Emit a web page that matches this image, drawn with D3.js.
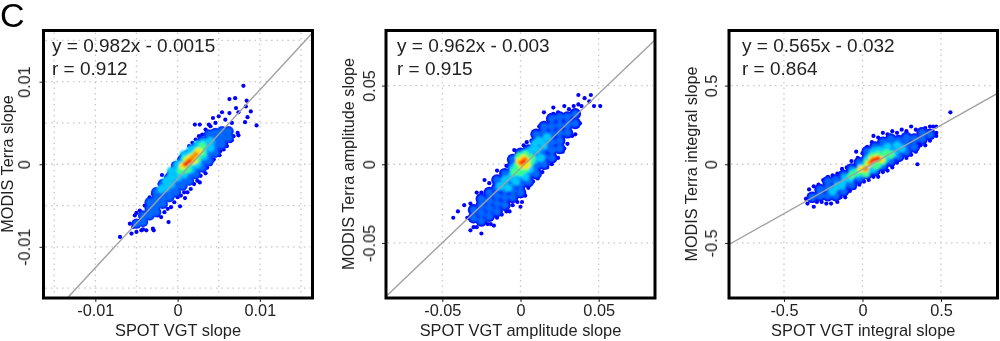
<!DOCTYPE html>
<html lang="en">
<head>
<meta charset="UTF-8">
<title>SPOT VGT vs MODIS Terra slopes</title>
<script src="https://d3js.org/d3.v7.min.js"></script>
<style>
html, body { margin: 0; padding: 0; background: #fff; }
svg { display: block; font-family: "Liberation Sans", Arial, sans-serif; }
text { fill: #222; filter: url(#softText); }
.grid { stroke: #c8c8c8; stroke-width: 1.3; stroke-dasharray: 1.5 4; }
.fit { stroke: #a0a0a0; stroke-width: 1.4; fill: none; }
.box { fill: none; stroke: #000; stroke-width: 3; }
.tick line, .domain { stroke: #222; }
</style>
</head>
<body>
<div id="chart"></div>
<script>
var xLabels = ['SPOT VGT slope', 'SPOT VGT amplitude slope', 'SPOT VGT integral slope'];
var yLabels = ['MODIS Terra slope', 'MODIS Terra amplitude slope', 'MODIS Terra integral slope'];
var equations = ['y = 0.982x - 0.0015', 'y = 0.962x - 0.003', 'y = 0.565x - 0.032'];
var correlations = ['r = 0.912', 'r = 0.915', 'r = 0.864'];

var tickValues1 = [-100, 0, 100], tickLabels1 = ['-0.01', '0', '0.01'];
var tickValues2 = [-50, 0, 50], tickLabels2 = ['-0.05', '0', '0.05'];
var tickValues3 = [-50, 0, 50], tickLabels3 = ['-0.5', '0', '0.5'];
var gridValues1 = [-150, -100, -50, 0, 50, 100, 150];
var gridValues2 = [-50, 0, 50];
var gridValues3 = [-50, 0, 50];

var xDomain1 = [-163, 164], yDomain1 = [-162, 162];
var xDomain2 = [-86, 86], yDomain2 = [-85, 85];
var xDomain3 = [-85, 86], yDomain3 = [-85, 85];

// drawn fit line, end to end
var fit1 = [[-134, -162], [163, 158]];
var fit2 = [[-86, -84], [86, 79]];
var fit3 = [[-85, -51], [86, 45]];

var blue1 = [[80,95],[63,79],[70,80],[84,77],[71,68],[83,70],[89,64],[85,57],[82,51],[96,47],[74,63],[63,62],[54,63],[43,56],[27,48],[21,48],[73,38],[74,35],[63,39],[66,29],[59,25],[51,11],[43,5],[34,-11],[27,-22],[23,-15],[9,-41],[3,-51],[-11,-70],[-70,-88],[-56,-84],[-54,-76],[-50,-59],[-29,-33],[-19,-13],[-29,-80],[-42,-79],
[-58,-72],[-52,-62],[-46,-56],[-40,-50],[-34,-40],[-30,-36],[-26,-32],[-22,-24],[-14,-16],[-10,-10],[-6,-6],[-2,0],[2,6],[6,12],[10,14],[14,22],[18,26],[22,30],[26,34],[30,36],[34,42],[38,48],[46,50],[50,58],[40,46],
[-50,-82],[-44,-80],[-38,-80],[-30,-78],[-24,-62],[-20,-64],[-16,-58],[-12,-54],[-8,-52],[-4,-46],[0,-40],[4,-38],[8,-34],[12,-34],[16,-30],[20,-24],[24,-20],[28,-14],[32,-8],[36,-4],[40,0],[44,6],[48,12],[52,16],[56,18],[60,22],[64,28],[68,34],[60,42],[66,50],[58,54]];
var azure1 = [[-50,-72],[-42,-70],[-42,-62],[-34,-62],[-34,-54],[-34,-46],[-26,-58],[-26,-50],[-26,-42],[-26,-34],[-18,-48],[-18,-40],[-18,-32],[-18,-24],[-10,-40],[-10,-32],[-10,-24],[-10,-16],[-2,-34],[-2,-26],[-2,-18],[-2,-10],[-2,-2],[6,-26],[6,-18],[6,-10],[6,-2],[6,6],[14,-20],[14,-12],[14,-4],[14,4],[14,12],[22,-12],[22,-4],[22,4],[22,12],[22,20],[30,-4],[30,4],[30,12],[30,20],[30,28],[38,4],[38,12],[38,20],[38,28],[38,36],[46,14],[46,22],[46,30],[46,38],[54,24],[54,32],[54,40],[62,32],[62,40]];
var cyan1 = [[-20,-30],[-14,-28],[-14,-20],[-8,-24],[-8,-16],[-8,-8],[0,-16],[0,-8],[0,0],[8,-12],[8,-4],[8,4],[8,12],[16,-6],[16,2],[16,10],[16,18],[24,0],[24,8],[24,16],[24,24],[32,10],[32,18],[32,26],[40,20],[40,28]];
var green1 = [[4,-8],[8,-2],[12,-6],[10,6],[16,2],[18,10],[24,6],[24,16],[30,14],[30,22]];
var yellow1 = [[6,-2],[12,5],[16,8],[22,12],[26,16],[20,4]];
var orange1 = [[10,0],[14,4],[18,8],[22,12]];
var red1 = [[9,0],[12,2],[15,4]];

var blue2 = [[51,37],[45,44],[37,44],[44,40],[39,37],[21,36],[15,33],[28,37],[35,19],[30,18],[0,-27],[1,-24],[-7,-30],[-25,-44],[-32,-42],[-40,-30],[-43,-34],[-36,-26],[-28,-18],[-23,-10],[-15,-4],[-4,9],[-17,-39],
[-32,-25],[-25,-18],[-20,-12],[-17,-9],[-12,-5],[-9,-1],[-6,3],[-1,8],[2,12],[4,14],[7,15],[9,20],[12,24],[15,26],[18,28],[21,32],[24,33],[31,35],[34,37],[37,38],[41,42],[47,37],
[-34,-34],[-30,-40],[-28,-40],[-24,-38],[-21,-38],[-19,-38],[-15,-34],[-12,-32],[-9,-30],[-5,-26],[-2,-24],[3,-20],[5,-15],[8,-11],[11,-9],[14,-5],[17,-2],[20,0],[24,4],[27,8],[30,13],[33,18],[36,24],[38,26],[28,10]];
var azure2 = [[-30,-34],[-30,-29],[-25,-36],[-25,-31],[-25,-26],[-25,-22],[-20,-33],[-20,-28],[-20,-23],[-20,-18],[-15,-30],[-15,-25],[-15,-20],[-15,-15],[-15,-10],[-10,-26],[-10,-21],[-10,-16],[-10,-11],[-10,-6],[-5,-21],[-5,-16],[-5,-11],[-5,-6],[-5,-1],[-5,3],[0,-18],[0,-13],[0,-8],[0,-3],[0,2],[0,7],[5,-11],[5,-6],[5,-1],[5,4],[5,9],[10,-6],[10,-1],[10,4],[10,9],[10,14],[10,19],[15,0],[15,5],[15,10],[15,15],[15,20],[15,24],[20,4],[20,9],[20,14],[20,19],[20,24],[20,29],[25,10],[25,15],[25,20],[25,25],[25,30],[30,20],[30,25],[30,30],[35,26],[35,32]];
var cyan2 = [[-13,-14],[-10,-10],[-8,-15],[-6,-8],[-5,-3],[-3,-11],[-1,-6],[-1,4],[3,-8],[3,7],[6,-3],[7,9],[9,3],[11,9],[12,15],[15,12],[9,13],[17,17],[13,4]];
var green2 = [[-4,-5],[-2,-1],[0,-5],[-1,5],[3,-3],[3,6],[6,1],[7,4]];
var yellow2 = [[-1,2],[1,-1],[2,4],[4,2],[4,-1]];
var orange2 = [[0,1],[2,2],[3,3]];
var red2 = [[1,1],[2,2]];

var blue3 = [[56,33],[47,20],[35,0],[31,24],[-31,-27],[-34,-16],[-16,-24],[-4,8],[7,18],[13,20],[45,24],[40,23],[-26,-24],
[-36,-22],[-31,-14],[-28,-13],[-25,-10],[-22,-8],[-19,-7],[-16,-6],[-13,-3],[-10,-2],[-7,2],[-3,4],[0,7],[3,11],[6,14],[10,17],[16,19],[19,21],[22,20],[25,22],[28,21],[34,22],[37,22],[43,24],[47,24],
[-35,-25],[-29,-24],[-23,-25],[-20,-25],[-14,-21],[-11,-21],[-8,-17],[-5,-15],[-2,-13],[1,-11],[4,-10],[7,-8],[10,-8],[13,-5],[16,-4],[19,-2],[22,1],[28,4],[31,6],[34,8],[37,12],[40,12],[43,15],[47,18]];
var azure3 = [[-32,-21],[-27,-20],[-27,-16],[-22,-20],[-22,-15],[-22,-11],[-17,-20],[-17,-15],[-17,-10],[-12,-17],[-12,-12],[-12,-7],[-7,-13],[-7,-8],[-7,-3],[-2,-9],[-2,-4],[-2,1],[3,-6],[3,-1],[3,4],[3,8],[8,-4],[8,1],[8,6],[8,11],[13,-1],[13,4],[13,9],[13,14],[18,2],[18,7],[18,12],[18,16],[23,5],[23,10],[23,15],[28,8],[28,13],[28,17],[33,11],[33,16],[38,16],[38,20],[43,19]];
var cyan3 = [[-19,-17],[-16,-14],[-13,-13],[-11,-9],[-8,-9],[-6,-5],[-3,-6],[-1,-2],[2,-5],[3,3],[6,-3],[7,8],[10,0],[11,9],[15,4],[16,11],[20,7],[22,12],[25,10]];
var green3 = [[-7,-7],[-3,-5],[0,-3],[2,-6],[3,1],[6,5],[9,-1],[10,6],[13,2],[15,7],[18,6]];
var yellow3 = [[-1,-3],[2,-3],[4,0],[6,3],[9,4],[12,3]];
var orange3 = [[2,-3],[5,1],[7,3],[10,3]];
var red3 = [[6,2],[8,3],[10,4]];

var width = 1000, height = 341;

// density bands, painted from the sparse outside to the dense core
var bandColors = ['#0000ff', '#0068ff', '#00c8ff', '#3cff8c', '#ffe600', '#ff8a00', '#ff2a00'];
var bandRadius = [2.1, 4.2, 4.2, 4, 3.3, 2.7, 2.2];

var panels = [
	{left: 43.5, right: 312.5, textLeft: 52, under: 5, domX: xDomain1, domY: yDomain1, ticks: tickValues1, labels: tickLabels1, grid: gridValues1, fit: fit1, bands: [blue1, azure1, cyan1, green1, yellow1, orange1, red1], yLabelX: 13, yTickX: 30},
	{left: 386, right: 655, textLeft: 397, under: 5.8, domX: xDomain2, domY: yDomain2, ticks: tickValues2, labels: tickLabels2, grid: gridValues2, fit: fit2, bands: [blue2, azure2, cyan2, green2, yellow2, orange2, red2], yLabelX: 354, yTickX: 375},
	{left: 729, right: 997.5, textLeft: 742, under: 5.8, domX: xDomain3, domY: yDomain3, ticks: tickValues3, labels: tickLabels3, grid: gridValues3, fit: fit3, bands: [blue3, azure3, cyan3, green3, yellow3, orange3, red3], yLabelX: 697, yTickX: 717}
];
var plotTop = 30.5, plotBottom = 298;

var svg = d3.select('#chart').append('svg')
	.attr('width', width)
	.attr('height', height);

var defs = svg.append('defs');
defs.append('filter').attr('id', 'soft')
	.append('feGaussianBlur').attr('stdDeviation', 0.5);
defs.append('filter').attr('id', 'softCore')
	.append('feGaussianBlur').attr('stdDeviation', 0.85);
defs.append('filter').attr('id', 'softText')
	.append('feGaussianBlur').attr('stdDeviation', 0.3);

svg.append('text')
	.attr('x', 0).attr('y', 27)
	.attr('font-size', 34)
	.style('fill', '#000')
	.text('C');

panels.forEach(function(p, i) {
	var x = d3.scaleLinear().domain(p.domX).range([p.left, p.right]);
	var y = d3.scaleLinear().domain(p.domY).range([plotBottom, plotTop]);
	var g = svg.append('g');

	g.selectAll('.gridV').data(p.grid).enter().append('line')
		.attr('class', 'grid')
		.attr('x1', function(d) { return x(d); }).attr('x2', function(d) { return x(d); })
		.attr('y1', plotTop + 2).attr('y2', plotBottom - 2);
	g.selectAll('.gridH').data(p.grid).enter().append('line')
		.attr('class', 'grid')
		.attr('y1', function(d) { return y(d); }).attr('y2', function(d) { return y(d); })
		.attr('x1', p.left + 2).attr('x2', p.right - 2);

	// sparse blue, then the azure positions again in blue to close the gaps
	var pts = g.append('g').attr('filter', 'url(#soft)');
	pts.selectAll('.b0').data(p.bands[0]).enter().append('circle')
		.attr('class', 'b0')
		.attr('cx', function(d) { return x(d[0]); })
		.attr('cy', function(d) { return y(d[1]); })
		.attr('r', bandRadius[0])
		.attr('fill', bandColors[0]);
	pts.selectAll('.under').data(p.bands[1]).enter().append('circle')
		.attr('class', 'under')
		.attr('cx', function(d) { return x(d[0]); })
		.attr('cy', function(d) { return y(d[1]); })
		.attr('r', p.under)
		.attr('fill', bandColors[0]);

	var core = g.append('g').attr('filter', 'url(#softCore)');
	p.bands.forEach(function(band, b) {
		if (b === 0) return;
		core.selectAll('.b' + b).data(band).enter().append('circle')
			.attr('class', 'b' + b)
			.attr('cx', function(d) { return x(d[0]); })
			.attr('cy', function(d) { return y(d[1]); })
			.attr('r', bandRadius[b])
			.attr('fill', bandColors[b]);
	});

	g.append('path')
		.attr('class', 'fit')
		.attr('d', d3.line().x(function(d) { return x(d[0]); }).y(function(d) { return y(d[1]); })(p.fit));

	var xAxis = d3.axisBottom(x).tickValues(p.ticks).tickSize(4).tickPadding(2)
		.tickFormat(function(d, k) { return p.labels[k]; });
	var gx = g.append('g').attr('transform', 'translate(0,' + plotBottom + ')').call(xAxis);
	gx.select('.domain').remove();
	gx.selectAll('text').attr('font-size', 16.3).style('font-family', 'inherit');

	var yAxis = d3.axisLeft(y).tickValues(p.ticks).tickSize(4)
		.tickFormat(function(d, k) { return p.labels[k]; });
	var gy = g.append('g').attr('transform', 'translate(' + p.left + ',0)').call(yAxis);
	gy.select('.domain').remove();
	gy.selectAll('text')
		.attr('font-size', 16.3)
		.style('font-family', 'inherit')
		.attr('text-anchor', 'middle')
		.attr('x', null).attr('dy', null)
		.attr('transform', 'translate(' + (p.yTickX - p.left) + ',0) rotate(-90)');

	g.append('rect')
		.attr('class', 'box')
		.attr('x', p.left).attr('y', plotTop)
		.attr('width', p.right - p.left).attr('height', plotBottom - plotTop);

	g.append('text').attr('x', p.textLeft).attr('y', 52).attr('font-size', 19).text(equations[i]);
	g.append('text').attr('x', p.textLeft).attr('y', 75).attr('font-size', 19).text(correlations[i]);

	g.append('text')
		.attr('x', (p.left + p.right) / 2).attr('y', 336)
		.attr('text-anchor', 'middle').attr('font-size', 16.4)
		.text(xLabels[i]);
	g.append('text')
		.attr('transform', 'translate(' + p.yLabelX + ',164) rotate(-90)')
		.attr('text-anchor', 'middle').attr('font-size', 16.2)
		.text(yLabels[i]);
});
</script>
</body>
</html>
